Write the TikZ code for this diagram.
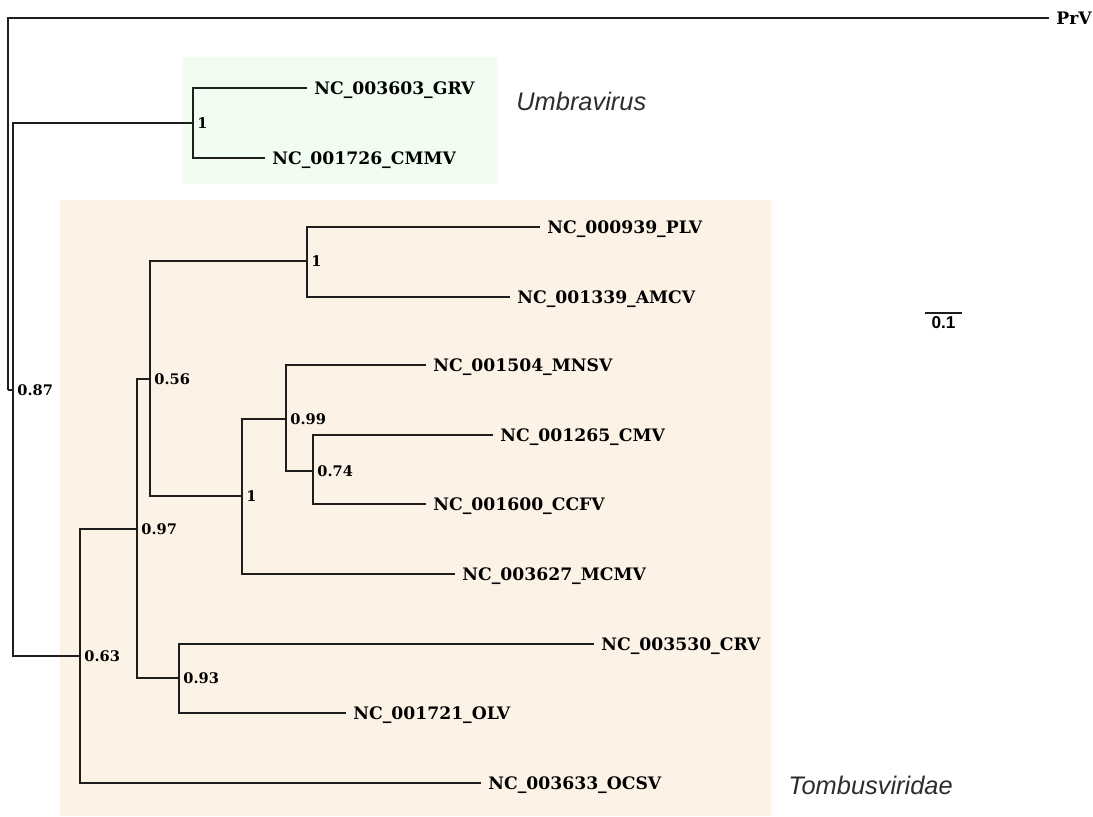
\documentclass[tikz,border=0pt]{standalone}
\usepackage{fontspec}
\newfontfamily\cladefont{Liberation Sans}
\newfontfamily\taxonfont{DejaVu Serif}
\usepackage{tikz}
\definecolor{umbrabg}{RGB}{241,253,241}
\definecolor{tombusbg}{RGB}{253,242,230}
\definecolor{branchcol}{RGB}{30,30,30}
\definecolor{cladecol}{RGB}{45,45,45}
\tikzset{
  branch/.style={draw=branchcol, line width=1pt},
  leaf/.style={anchor=west, inner sep=3.5pt, text height=6.3pt, text depth=0pt,
    font=\fontsize{8.6}{10}\selectfont\taxonfont\bfseries},
  supp/.style={anchor=west, inner sep=2pt, text height=5.3pt, text depth=0pt,
    font=\fontsize{7.3}{9}\selectfont\taxonfont\bfseries},
  cladelab/.style={anchor=west, inner sep=0pt, text=cladecol,
    font=\fontsize{12.7}{14}\selectfont\cladefont\itshape},
  scalelab/.style={inner sep=1.5pt, font=\fontsize{8.6}{10}\selectfont\cladefont\bfseries}
}
\begin{document}
\begin{tikzpicture}[x=0.5pt,y=-0.5pt]
\useasboundingbox (0,0) rectangle (1093,816);
% shaded clades
\fill[umbrabg] (182,57) rectangle (498,184);
\fill[tombusbg] (60,200) rectangle (771,816);
% inner nodes
\coordinate (root) at (8,390);
\coordinate (n087) at (13,390);
\coordinate (umb) at (193,123);
\coordinate (tom) at (80,656);
\coordinate (n097) at (137,529);
\coordinate (n056) at (150,379);
\coordinate (n1a) at (307,261);
\coordinate (n1b) at (242,496);
\coordinate (n099) at (286,419);
\coordinate (n074) at (313,471);
\coordinate (n093) at (179,678);
% leaves
\node[leaf] (prv) at (1049,18) {PrV};
\node[leaf] (grv) at (307,88) {NC\_003603\_GRV};
\node[leaf] (cmmv) at (265,158) {NC\_001726\_CMMV};
\node[leaf] (plv) at (540,227) {NC\_000939\_PLV};
\node[leaf] (amcv) at (510,297) {NC\_001339\_AMCV};
\node[leaf] (mnsv) at (426,365) {NC\_001504\_MNSV};
\node[leaf] (cmv) at (493,435) {NC\_001265\_CMV};
\node[leaf] (ccfv) at (426,504) {NC\_001600\_CCFV};
\node[leaf] (mcmv) at (455,574) {NC\_003627\_MCMV};
\node[leaf] (crv) at (594,644) {NC\_003530\_CRV};
\node[leaf] (olv) at (346,713) {NC\_001721\_OLV};
\node[leaf] (ocsv) at (481,783) {NC\_003633\_OCSV};
% branches
\draw[branch] (root) |- (prv.west);
\draw[branch] (root) -- (n087);
\draw[branch] (n087) |- (umb) (n087) |- (tom);
\draw[branch] (umb) |- (grv.west) (umb) |- (cmmv.west);
\draw[branch] (tom) |- (n097) (tom) |- (ocsv.west);
\draw[branch] (n097) |- (n056) (n097) |- (n093);
\draw[branch] (n056) |- (n1a) (n056) |- (n1b);
\draw[branch] (n1a) |- (plv.west) (n1a) |- (amcv.west);
\draw[branch] (n1b) |- (n099) (n1b) |- (mcmv.west);
\draw[branch] (n099) |- (mnsv.west) (n099) |- (n074);
\draw[branch] (n074) |- (cmv.west) (n074) |- (ccfv.west);
\draw[branch] (n093) |- (crv.west) (n093) |- (olv.west);
% support values
\node[supp] (s087) at (n087) {0.87};
\node[supp] (sumb) at (umb) {1};
\node[supp] (stom) at (tom) {0.63};
\node[supp] (s097) at (n097) {0.97};
\node[supp] (s056) at (n056) {0.56};
\node[supp] (s1a) at (n1a) {1};
\node[supp] (s1b) at (n1b) {1};
\node[supp] (s099) at (n099) {0.99};
\node[supp] (s074) at (n074) {0.74};
\node[supp] (s093) at (n093) {0.93};
% clade names
\node[cladelab] (umblab) at (516,101) {Umbravirus};
\node[cladelab] (tomlab) at (788,785) {Tombusviridae};
% scale bar
\coordinate (sbl) at (925,313);
\coordinate (sbr) at (962,313);
\draw[branch] (sbl) -- (sbr);
\node[scalelab, below] (sblab) at (943.5,313) {0.1};
\end{tikzpicture}
\end{document}
